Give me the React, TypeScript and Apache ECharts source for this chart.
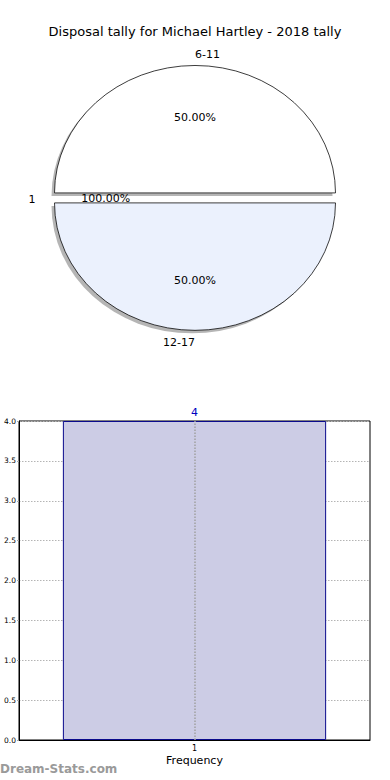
import React, { useEffect, useRef } from "react";
import * as echarts from "echarts";

const titleText = "Disposal tally for Michael Hartley - 2018 tally";
const pieLabels = ["6-11", "1", "12-17"];
const pieValues = [50, 0, 50];
const piePctTexts = ["50.00%", "100.00%", "50.00%"];
const pieColors = ["#ffffff", "#ffffff", "#ebf1fd"];

const barCategories = ["1"];
const barValues = [4];
const yTicksMax = 4;
const yTickStep = 0.5;

export default function App() {
  const ref = useRef<HTMLDivElement>(null);
  useEffect(() => {
    document.body.style.margin = "0";
    const chart = echarts.init(ref.current!, null, { renderer: "svg" });
    const total = pieValues.reduce((a, b) => a + b, 0);
    const cx = 195, cy = 198, rx = 140.5, ry = 127.5, explode = 5;
    const font = "DejaVu Sans";
    const starts: number[] = [];
    let acc = 0;
    pieValues.forEach((v) => { starts.push(acc); acc += v; });

    const renderItem = (params: any, api: any) => {
      const i = params.dataIndex;
      const v = api.value(0);
      const a1 = (starts[i] / total) * Math.PI * 2;
      const a2 = ((starts[i] + v) / total) * Math.PI * 2;
      const mid = (a1 + a2) / 2;
      const ox = Math.cos(mid) * explode;
      const oy = -Math.sin(mid) * explode;
      const pcx = cx + ox, pcy = cy + oy;
      const children: any[] = [];
      if (v > 0) {
        children.push({
          type: "sector",
          shape: { cx: pcx - 3, cy: pcy + 3, r: rx, r0: 0, startAngle: -a2, endAngle: -a1, clockwise: true },
          scaleY: ry / rx, originX: pcx - 3, originY: pcy + 3,
          style: { fill: "rgba(90,90,90,0.45)", stroke: "none" },
        });
        children.push({
          type: "sector",
          shape: { cx: pcx, cy: pcy, r: rx, r0: 0, startAngle: -a2, endAngle: -a1, clockwise: true },
          scaleY: ry / rx, originX: pcx, originY: pcy,
          style: { fill: pieColors[i], stroke: "#000", lineWidth: 0.8 },
        });
      }
      const c = Math.cos(mid), s = Math.sin(mid);
      const lx = pcx + c * rx * 1.1, ly = pcy - s * ry * 1.1;
      children.push({
        type: "text", x: lx, y: ly + (s > 0.5 ? 1.5 : s < -0.5 ? -1 : 1),
        style: { text: pieLabels[i], fill: "#000000", fontSize: 11, fontFamily: font, align: c > 0 ? "left" : "right", verticalAlign: "middle" },
      });
      const px = pcx + c * rx * 0.6, py = pcy - s * ry * 0.6;
      children.push({
        type: "text", x: px, y: py + 0.5,
        style: { text: piePctTexts[i], fill: "#000000", fontSize: 11, fontFamily: font, align: "center", verticalAlign: "middle" },
      });
      return { type: "group", children };
    };

    chart.setOption({
      animation: false,
      textStyle: { fontFamily: font },
      title: { text: titleText, left: "center", top: 20, textStyle: { fontSize: 13, fontWeight: "normal", color: "#000", fontFamily: font } },
      graphic: [
        { type: "text", left: 0, top: 763, style: { text: "Dream-Stats.com", fill: "#9a9a9a", fontSize: 12, fontWeight: "bold", fontFamily: font } },
      ],
      grid: { left: 19, right: 20, top: 421, bottom: 40, show: true, borderColor: "#000", borderWidth: 1, containLabel: false },
      xAxis: {
        type: "category", data: barCategories,
        axisLine: { lineStyle: { color: "#000" } },
        axisTick: { show: false },
        axisLabel: { fontSize: 8, color: "#000", margin: 4 },
        name: "Frequency", nameLocation: "middle", nameGap: 15,
        nameTextStyle: { fontSize: 11, color: "#000" },
      },
      yAxis: {
        type: "value", min: 0, max: yTicksMax, interval: yTickStep,
        axisLine: { show: true, lineStyle: { color: "#000" } },
        axisTick: { show: true, length: 2, lineStyle: { color: "#aaa" } },
        axisLabel: { fontSize: 7.5, color: "#000", margin: 3, formatter: (v: number) => v.toFixed(1) },
        splitLine: { show: true, lineStyle: { color: "#b4b4b4", type: [1.5, 1.5], width: 1 } },
      },
      series: [
        {
          type: "custom", coordinateSystem: "none", silent: true,
          data: pieValues.map((v) => [v]),
          renderItem,
        },
        {
          type: "bar", data: barValues, barWidth: "75%",
          itemStyle: { color: "#ccccE5", borderColor: "#0a0a8c", borderWidth: 1 },
          label: { show: true, position: "top", distance: 3, color: "#0000c0", fontSize: 11 },
          markLine: {
            silent: true, symbol: "none", label: { show: false },
            lineStyle: { color: "#a0a0a0", type: [1.5, 1.5], width: 1.5 },
            data: [{ xAxis: barCategories[0] }],
          },
        },
      ],
    });
    return () => chart.dispose();
  }, []);
  return <div ref={ref} style={{ width: 390, height: 780 }} />;
}
